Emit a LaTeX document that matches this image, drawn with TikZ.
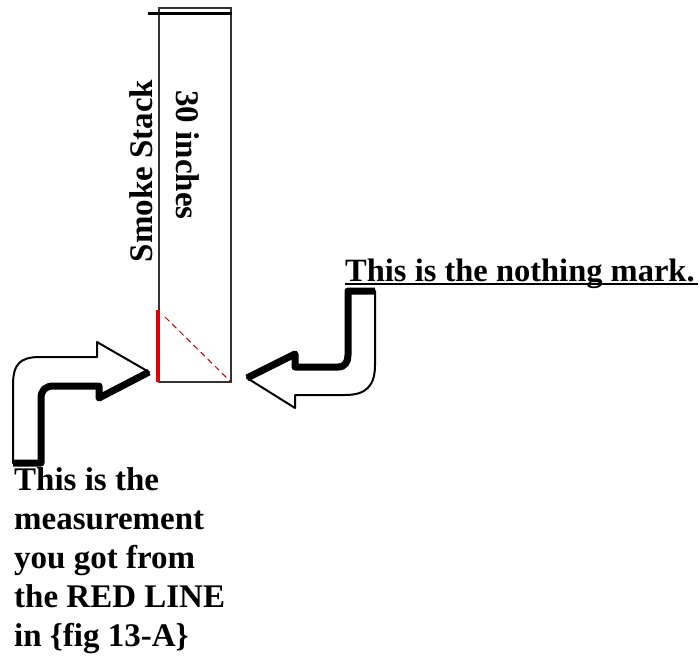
\documentclass[tikz,border=0pt]{standalone}
\usepackage{fontspec}
\setmainfont{Liberation Serif}
\begin{document}
\begin{tikzpicture}[x=1pt,y=-1pt,
  lbl/.style={font=\fontsize{33}{39}\selectfont\bfseries, inner sep=0pt},
  stackline/.style={draw=black!80, line width=1.3pt},
  arrowthin/.style={draw=black, line width=2pt, fill=white, line join=round},
  arrowthick/.style={draw=black, line width=7pt, line join=round},
  redmark/.style={draw=red!90!black, line width=4pt},
  reddash/.style={draw=red!75!black, line width=1pt, dash pattern=on 6pt off 4pt}
]
\useasboundingbox (0,0) rectangle (700,656);
% smoke stack
\coordinate (stTL) at (159,8);
\coordinate (stBR) at (231,382);
\coordinate (topL) at (148,13);
\coordinate (topR) at (232,13);
\coordinate (redT) at (158,310);
\coordinate (redB) at (158,382);
\coordinate (dashA) at (165,317);
\coordinate (dashB) at (231,382);
\draw[stackline] (stTL) rectangle (stBR);
\draw[draw=black, line width=3pt] (topL) -- (topR);
\draw[redmark] (redT) -- (redB);
\draw[reddash] (dashA) -- (dashB);
\node[lbl, rotate=90] (smoke) at (141,171) {Smoke Stack};
\node[lbl, rotate=-90] (inches) at (188,155) {30 inches};
% left bent arrow
\path[arrowthin] (13,463) -- (13,385) .. controls (13,364) and (20,357) .. (40,357) -- (97,357) -- (97,342) -- (149,372) -- (99,400) -- (99,386) -- (54,386) .. controls (45,386) and (41,390) .. (41,399) -- (41,463) -- cycle;
\draw[arrowthick] (13,463) -- (41,463) -- (41,399) .. controls (41,390) and (45,386) .. (54,386) -- (99,386) -- (99,398) -- (149,372);
% right bent arrow
\path[arrowthin] (348,291) -- (375,291) -- (375,365) .. controls (375,386) and (366,395) .. (345,395) -- (295,395) -- (295,408) -- (247,378) -- (295,352) -- (295,367) -- (338,367) .. controls (345,367) and (348,362) .. (348,355) -- cycle;
\draw[arrowthick] (375,291) -- (348,291) -- (348,355) .. controls (348,362) and (345,367) .. (338,367) -- (295,367) -- (295,354) -- (247,378);
% labels
\node[lbl, anchor=base west, font=\fontsize{32.5}{40}\selectfont\bfseries] (nothing) at (345,281) {This is the nothing mark.};
\draw[line width=2pt] ([yshift=-3pt]nothing.base west) -- ([yshift=-3pt,xshift=3pt]nothing.base east);
\node[lbl, anchor=north west, align=left] (meas) at (14,467) {This is the\\measurement\\you got from\\the RED LINE\\in \{fig 13-A\}};
\end{tikzpicture}
\end{document}
